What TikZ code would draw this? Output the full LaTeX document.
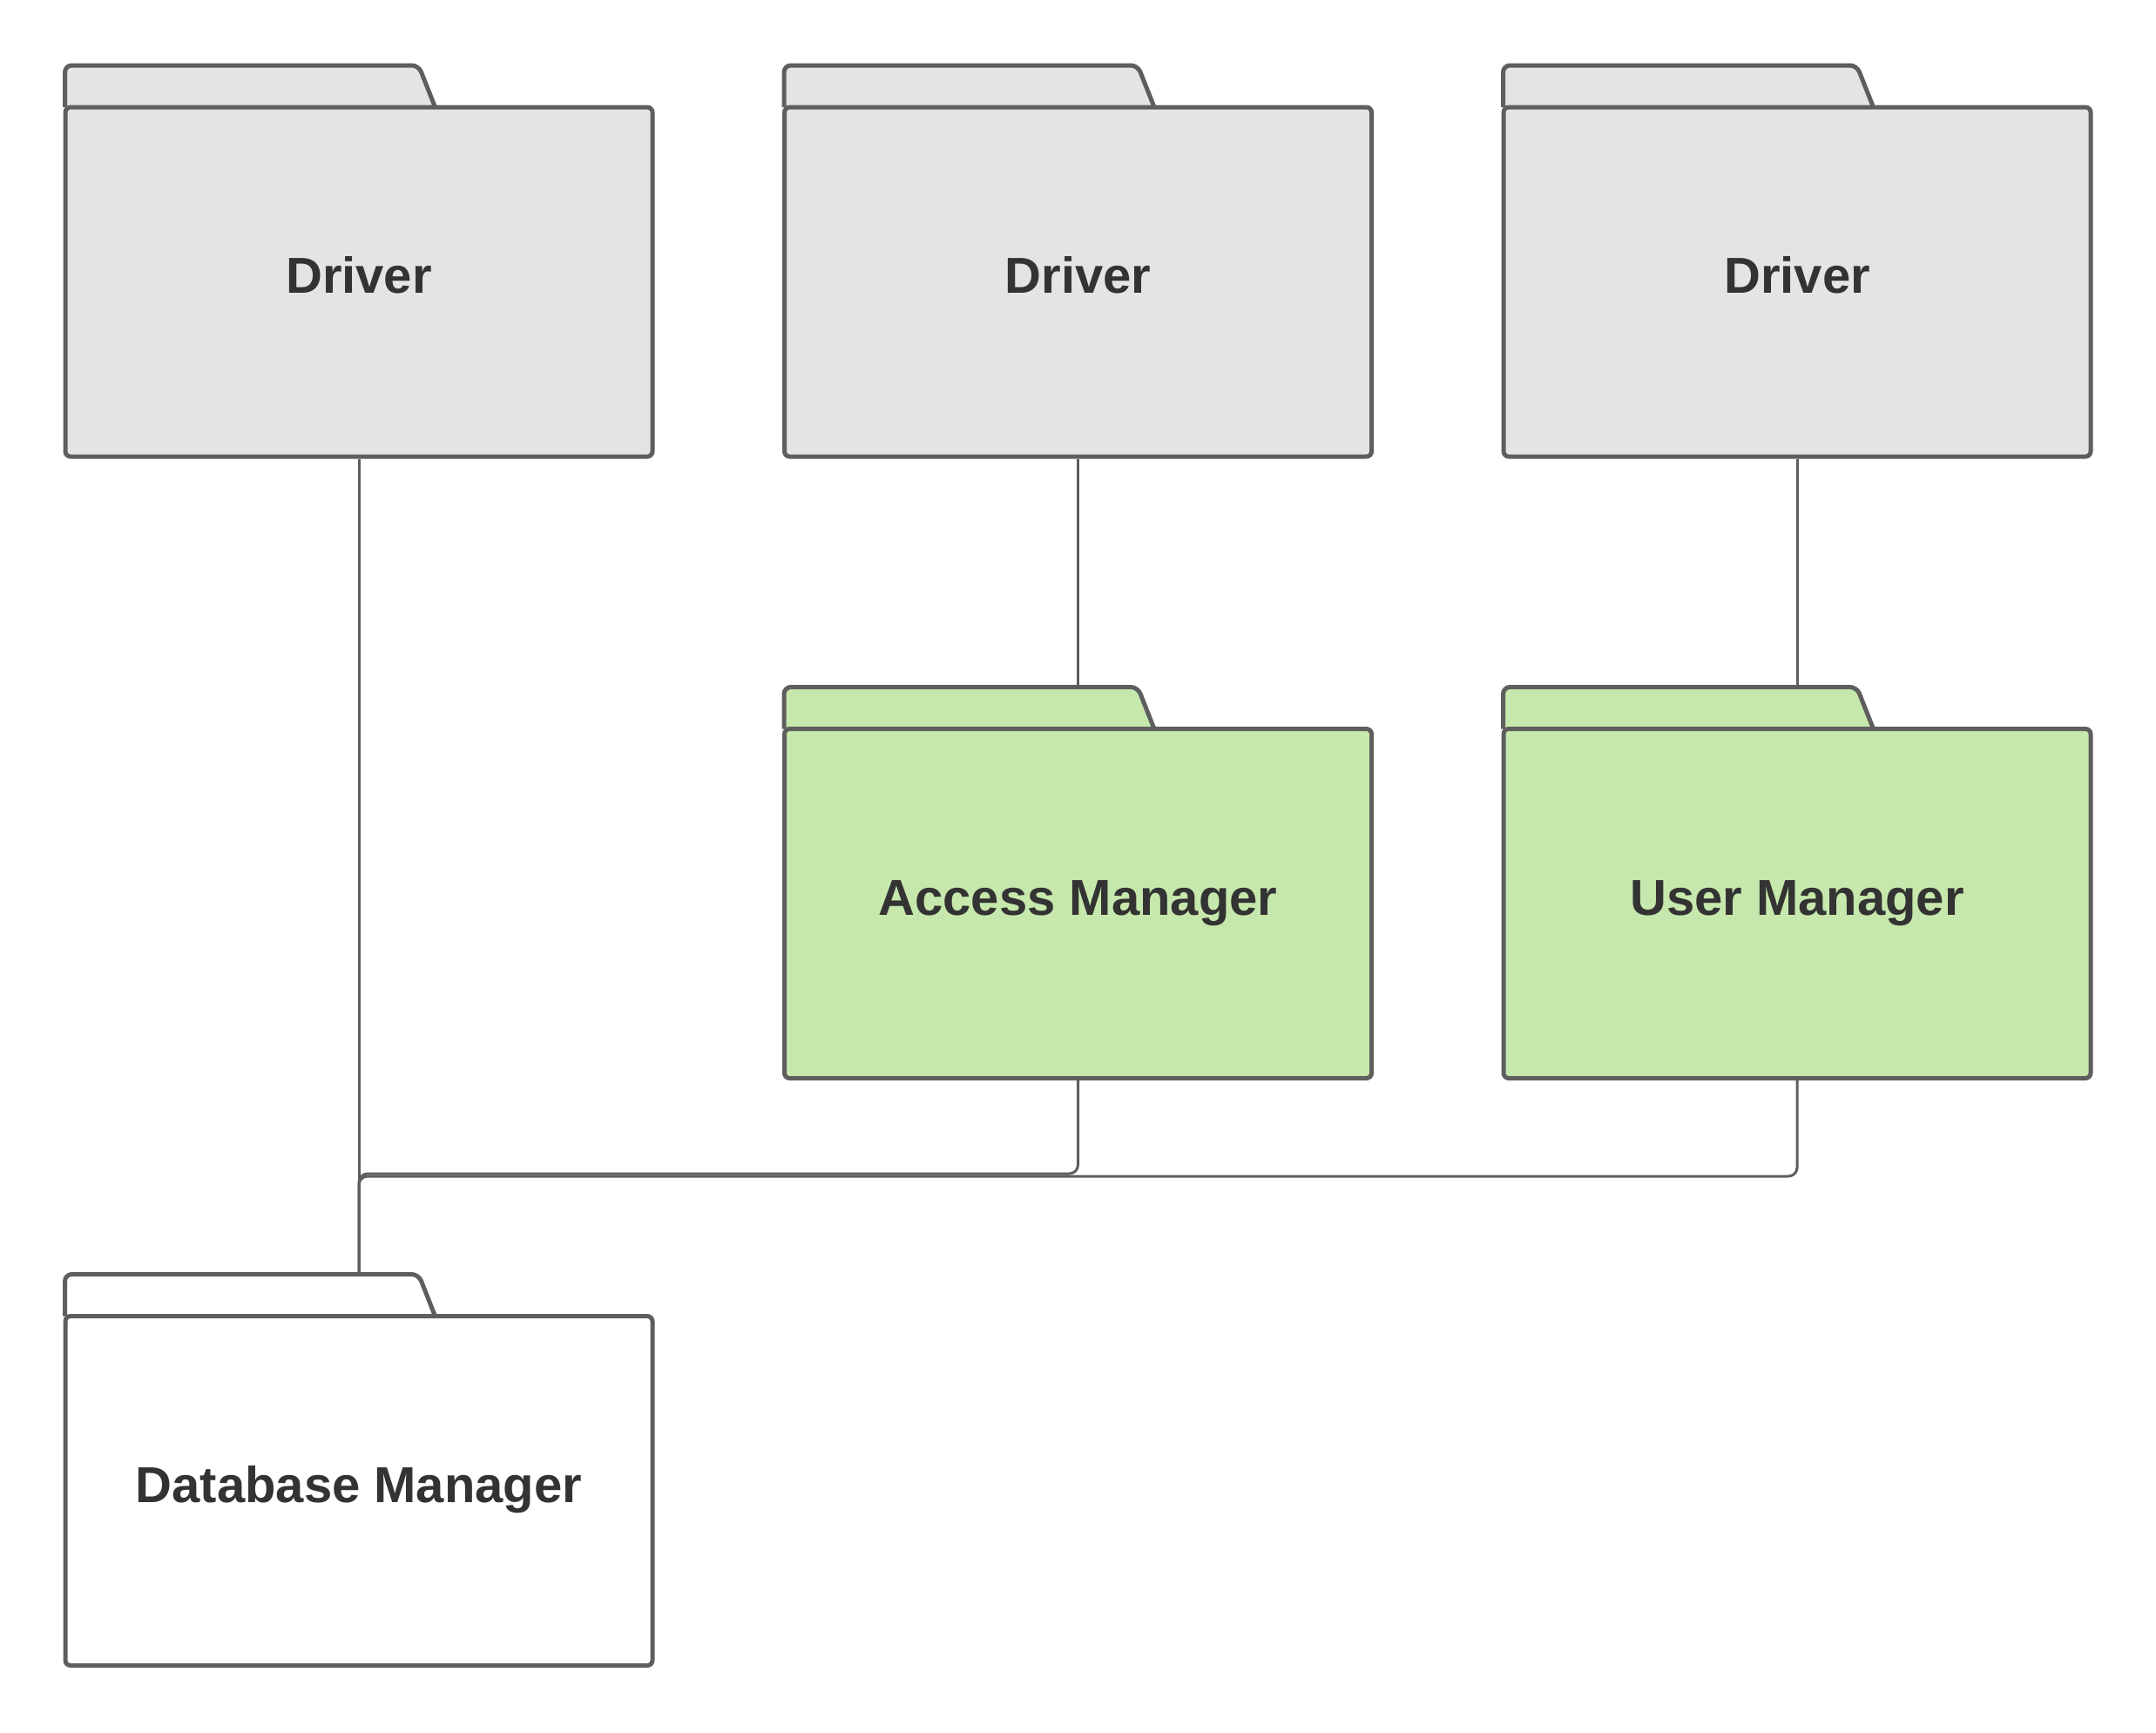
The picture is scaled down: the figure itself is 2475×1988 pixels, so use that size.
\documentclass[tikz,border=0pt]{standalone}
\usepackage{fontspec}
\setmainfont{Liberation Sans}
\definecolor{strokec}{HTML}{5E5E5E}
\definecolor{grayf}{HTML}{E4E4E4}
\definecolor{greenf}{HTML}{C7E8AC}
\definecolor{textc}{HTML}{333333}
\tikzset{
  body/.style={draw=strokec, line width=2.5pt, rounded corners=3pt, minimum width=337pt, minimum height=200.5pt,
    inner sep=0pt, text=textc, font=\fontsize{29}{34}\selectfont\bfseries, text height=21pt, text depth=8pt},
  tabline/.style={draw=strokec, line width=2.5pt, rounded corners=4pt},
  conn/.style={draw=strokec, line width=1.5pt, rounded corners=5pt}
}
% \folderbox{name}{left x}{main top y}{fill}{text}
\newcommand{\folderbox}[5]{%
  \fill[#4] (#2,#3) -- (#2+2,#3-46) -- (#2+404,#3-46) -- (#2+425,#3) -- cycle;
  \draw[tabline] (#2,#3) -- (#2,#3-48) -- (#2+406,#3-48) -- (#2+425,#3);
  \node[body, fill=#4] (#1) at (#2+337.5,#3+200.5) {#5};
  \coordinate (#1-top) at (#2+337.5,#3-48);
}
\begin{document}
\begin{tikzpicture}[x=0.5pt,y=-0.5pt]
\useasboundingbox (0,0) rectangle (2475,1988);
\folderbox{d1}{74.5}{123}{grayf}{Driver}
\folderbox{d2}{900}{123}{grayf}{Driver}
\folderbox{d3}{1725.5}{123}{grayf}{Driver}
\folderbox{am}{900}{836.5}{greenf}{Access Manager}
\folderbox{um}{1725.5}{836.5}{greenf}{User Manager}
\folderbox{db}{74.5}{1510.5}{white}{Database Manager}
\coordinate (busa) at (0,1347);
\coordinate (busu) at (0,1350);
\draw[conn] (d1.south) -- (db-top);
\draw[conn] (d2.south) -- (am-top);
\draw[conn] (d3.south) -- (um-top);
\draw[conn] (am.south) -- (am.south |- busa) -- (db-top |- busa) -- (db-top);
\draw[conn] (um.south) -- (um.south |- busu) -- (db-top |- busu) -- (db-top);
\end{tikzpicture}
\end{document}
